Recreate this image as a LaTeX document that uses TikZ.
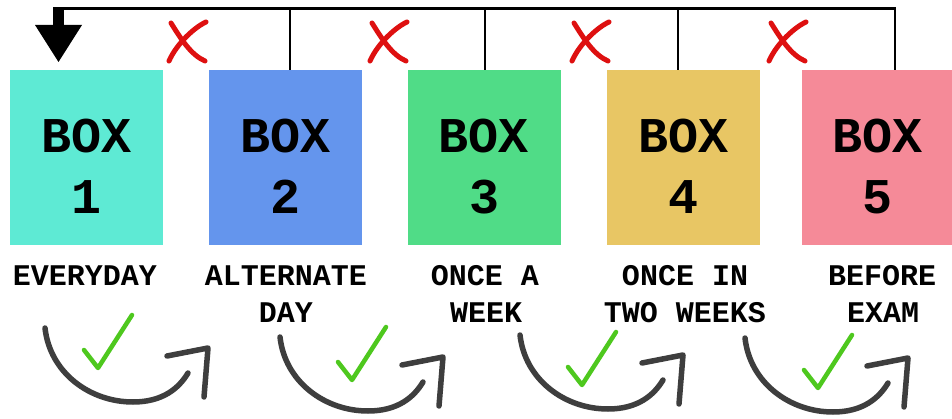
\documentclass[tikz,border=0pt]{standalone}
\usepackage{fontspec}
\newfontfamily\cour{Liberation Mono}
\definecolor{cA}{RGB}{94,234,212}
\definecolor{cB}{RGB}{100,149,237}
\definecolor{cC}{RGB}{80,220,135}
\definecolor{cD}{RGB}{232,198,100}
\definecolor{cE}{RGB}{245,138,152}
\definecolor{curv}{RGB}{62,62,62}
\definecolor{chk}{RGB}{78,200,30}
\definecolor{crs}{RGB}{222,16,16}
\tikzset{
  boxnode/.style={rectangle, draw=none, minimum width=153pt, minimum height=175pt, inner sep=0pt},
  boxtxt/.style={anchor=base, inner sep=0pt, font=\cour\bfseries\fontsize{50}{60}\selectfont},
  lbl/.style={anchor=base, inner sep=0pt, align=center, font=\cour\bfseries\fontsize{30}{36}\selectfont},
  conn/.style={line width=2.2pt, draw=black},
  curvestroke/.style={line width=5.5pt, draw=curv, line cap=round, line join=round},
  checkstroke/.style={line width=4.5pt, draw=chk, line cap=round, line join=round},
  crossstroke/.style={line width=5pt, draw=crs, line cap=round},
}
\begin{document}
\begin{tikzpicture}[x=1pt,y=-1pt]
\useasboundingbox (0,0) rectangle (952,419);
\fill[white] (0,0) rectangle (952,419);
% boxes
\node[boxnode, fill=cA] (b1) at (86.5,157.5) {};
\node[boxnode, fill=cB] (b2) at (285.5,157.5) {};
\node[boxnode, fill=cC] (b3) at (484,157.5) {};
\node[boxnode, fill=cD] (b4) at (683.5,157.5) {};
\node[boxnode, fill=cE, minimum width=150pt] (b5) at (877,157.5) {};
% box texts
\foreach \i/\x in {1/86.5,2/285.5,3/484,4/683.5,5/877}{
  \node[boxtxt] (bt\i) at (\x,153) {BOX};
  \node[boxtxt] (bn\i) at (\x,214) {\i};
}
% labels
\node[lbl] (l1) at (85,286) {EVERYDAY};
\node[lbl] (l2a) at (286,286) {ALTERNATE};
\node[lbl] (l2b) at (286,322) {DAY};
\node[lbl] (l3a) at (485,286) {ONCE A};
\node[lbl] (l3b) at (486,322) {WEEK};
\node[lbl] (l4a) at (685,286) {ONCE IN};
\node[lbl] (l4b) at (685,322) {TWO WEEKS};
\node[lbl] (l5a) at (882,286) {BEFORE};
\node[lbl] (l5b) at (883,322) {EXAM};
% top connector
\coordinate (t1) at (58,8.5);
\coordinate (t2) at (290,8.5);
\coordinate (t3) at (485,8.5);
\coordinate (t4) at (678,8.5);
\coordinate (t5) at (895,8.5);
\draw[conn] (t5 |- b5.north) -- (t5) -- (t1) -- ++(0,16);
\draw[conn] (t2) -- (t2 |- b2.north);
\draw[conn] (t3) -- (t3 |- b3.north);
\draw[conn] (t4) -- (t4 |- b4.north);
% arrow head down
\fill[black] (52.5,7.4) rectangle (63.5,26);
\fill[black] (35,25) -- (82,25) -- (58.5,62) -- cycle;
% red crosses
\foreach \cx in {187,388,590,787}{
  \draw[crossstroke] (\cx-16,-18+41) .. controls (\cx-6,-2+41) and (\cx+4,14+41) .. (\cx+18,20+41);
  \draw[crossstroke] (\cx+19,-19+41) .. controls (\cx+8,-14+41) and (\cx-10,2+41) .. (\cx-18,20+41);
}
% curved arrows
\foreach \sx/\sy in {45/328, 280/337, 520/335, 745/338}{
  \draw[curvestroke] (\sx,\sy) .. controls (\sx+5,\sy+45) and (\sx+45,\sy+74) .. (\sx+88,\sy+74)
     .. controls (\sx+118,\sy+74) and (\sx+134,\sy+60) .. (\sx+143,\sy+45);
  \draw[curvestroke] (\sx+122,\sy+28) -- (\sx+163,\sy+20) -- (\sx+159,\sy+69);
}
% check marks
\foreach \bx/\by in {98/368, 352/380, 582/385, 818/388}{
  \draw[checkstroke] (\bx-14,\by-18) -- (\bx,\by) -- (\bx+34,\by-53);
}
\end{tikzpicture}
\end{document}
